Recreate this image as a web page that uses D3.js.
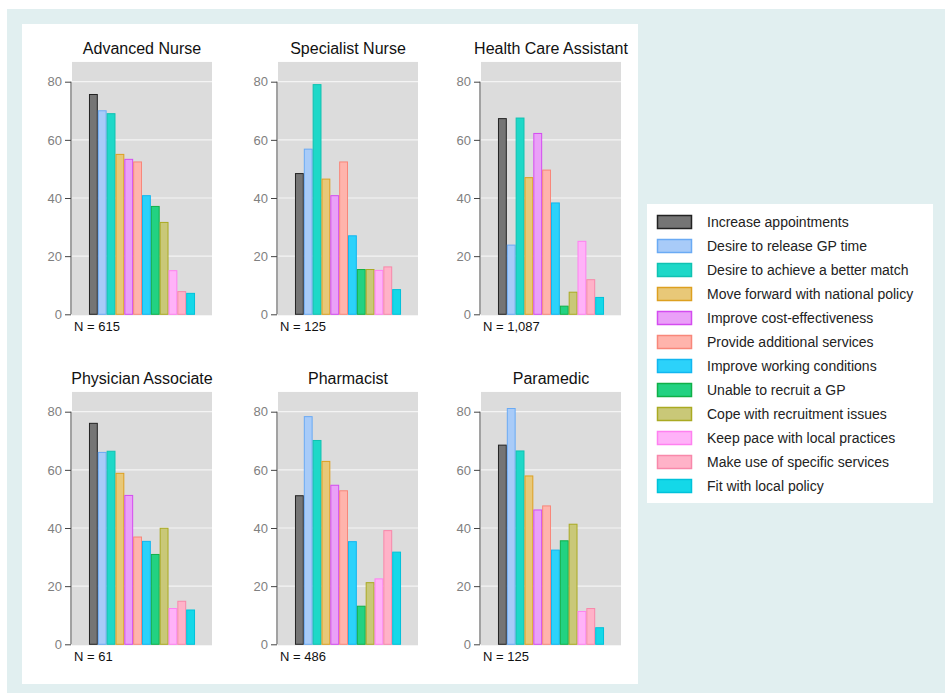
<!DOCTYPE html>
<html>
<head>
<meta charset="utf-8">
<script src="https://cdn.jsdelivr.net/npm/d3@7"></script>
<style>
  body { margin: 0; background: #fff; }
  text { font-family: "Liberation Sans", Arial, sans-serif; }
</style>
</head>
<body>
<div id="chart"></div>
<script>
const width = 945;
const height = 693;

const reasons = [
  "Increase appointments",
  "Desire to release GP time",
  "Desire to achieve a better match",
  "Move forward with national policy",
  "Improve cost-effectiveness",
  "Provide additional services",
  "Improve working conditions",
  "Unable to recruit a GP",
  "Cope with recruitment issues",
  "Keep pace with local practices",
  "Make use of specific services",
  "Fit with local policy"
];

const roles = ["Advanced Nurse", "Specialist Nurse", "Health Care Assistant",
  "Physician Associate", "Pharmacist", "Paramedic"];
const sampleSizes = ["N = 615", "N = 125", "N = 1,087", "N = 61", "N = 486", "N = 125"];

const advancedNurse = [75.6, 70.0, 69.0, 55.0, 53.3, 52.4, 40.8, 37.1, 31.6, 15.0, 7.8, 7.2];
const specialistNurse = [48.4, 56.8, 79.0, 46.5, 40.8, 52.4, 27.0, 15.4, 15.4, 15.1, 16.3, 8.5];
const healthCareAssistant = [67.3, 23.8, 67.5, 47.0, 62.2, 49.6, 38.3, 2.8, 7.6, 25.1, 11.9, 5.8];
const physicianAssociate = [76.0, 66.0, 66.4, 58.8, 51.2, 36.9, 35.4, 30.9, 39.9, 12.3, 14.8, 11.8];
const pharmacist = [51.1, 78.3, 70.1, 62.9, 54.7, 52.8, 35.3, 13.1, 21.2, 22.5, 39.1, 31.7];
const paramedic = [68.5, 81.1, 66.5, 57.9, 46.2, 47.6, 32.4, 35.6, 41.3, 11.3, 12.3, 5.7];

const yTicks = [0, 20, 40, 60, 80];

const fills = ["#757575", "#a8cbf8", "#1ed8c8", "#e8c878", "#eaa0f8", "#ffb4ac",
  "#2cd2fa", "#22d282", "#c9c878", "#ffb2f8", "#ffb2c8", "#14d8e8"];
const strokes = ["#222222", "#6aaaf4", "#10c2b2", "#dda020", "#d44cf0", "#f8877a",
  "#12b6f0", "#10b048", "#aaaa22", "#ff80f0", "#f888aa", "#00c2da"];

const allValues = [advancedNurse, specialistNurse, healthCareAssistant,
  physicianAssociate, pharmacist, paramedic];

const svg = d3.select("#chart").append("svg")
  .attr("width", width).attr("height", height);

// backgrounds
svg.append("rect").attr("x", 7).attr("y", 9)
  .attr("width", width - 7).attr("height", height - 9).attr("fill", "#e1eff0");
svg.append("rect").attr("x", 22).attr("y", 24)
  .attr("width", 616).attr("height", 660).attr("fill", "#fff");

const panelW = 140;
const colX = [72, 278, 481];
const rowY0 = [314.3, 644.3]; // pixel of value 0
const pxPerUnit = 2.9075;
const yMax = 86.8;

const x = d3.scaleBand().domain(d3.range(12)).range([0, panelW])
  .paddingInner(0).paddingOuter(1.92);
const y = d3.scaleLinear().domain([0, yMax]).range([yMax * pxPerUnit, 0]);
const plotH = yMax * pxPerUnit;

roles.forEach((role, i) => {
  const col = i % 3, row = Math.floor(i / 3);
  const g = svg.append("g")
    .attr("transform", `translate(${colX[col]},${rowY0[row] - plotH})`);

  g.append("rect").attr("width", panelW).attr("height", plotH + 1).attr("fill", "#dcdcdc");

  g.selectAll(".grid").data(yTicks.slice(1)).enter().append("line")
    .attr("x1", 0).attr("x2", panelW)
    .attr("y1", d => y(d)).attr("y2", d => y(d))
    .attr("stroke", "#f4f4f4").attr("stroke-width", 1.2);

  g.selectAll(".bar").data(allValues[i]).enter().append("rect")
    .attr("x", (d, j) => x(j) + 0.5)
    .attr("y", d => y(d))
    .attr("width", x.bandwidth() - 1)
    .attr("height", d => y(0) - y(d))
    .attr("fill", (d, j) => fills[j])
    .attr("stroke", (d, j) => strokes[j])
    .attr("stroke-width", 1);

  const axis = g.append("g").attr("transform", "translate(-1,0)")
    .call(d3.axisLeft(y).tickValues(yTicks).tickSize(6).tickPadding(3));
  axis.select(".domain").attr("stroke", "#444").attr("d", `M0,${y(80)}V${y(0)}`);
  axis.selectAll(".tick line").attr("stroke", "#444");
  axis.selectAll("text").attr("fill", "#808080")
    .style("font-size", "13px").style("font-family", "Liberation Sans, Arial, sans-serif");

  g.append("text").attr("x", panelW / 2).attr("y", -8)
    .attr("text-anchor", "middle").attr("font-size", 16).attr("fill", "#111")
    .text(role);

  g.append("text").attr("x", 2).attr("y", plotH + 17)
    .attr("font-size", 13).attr("fill", "#111")
    .text(sampleSizes[i]);
});

// legend
const legend = svg.append("g");
legend.append("rect").attr("x", 647).attr("y", 204)
  .attr("width", 286).attr("height", 299).attr("fill", "#fff");

const items = legend.selectAll(".item").data(reasons).enter().append("g")
  .attr("transform", (d, i) => `translate(657,${222 + i * 24})`);
items.append("rect").attr("x", 0.5).attr("y", -6.5).attr("width", 34).attr("height", 13)
  .attr("fill", (d, i) => fills[i]).attr("stroke", (d, i) => strokes[i]).attr("stroke-width", 1.5);
items.append("text").attr("x", 50).attr("y", 0).attr("dy", "0.36em")
  .attr("font-size", 14).attr("fill", "#222").text(d => d);
</script>
</body>
</html>
